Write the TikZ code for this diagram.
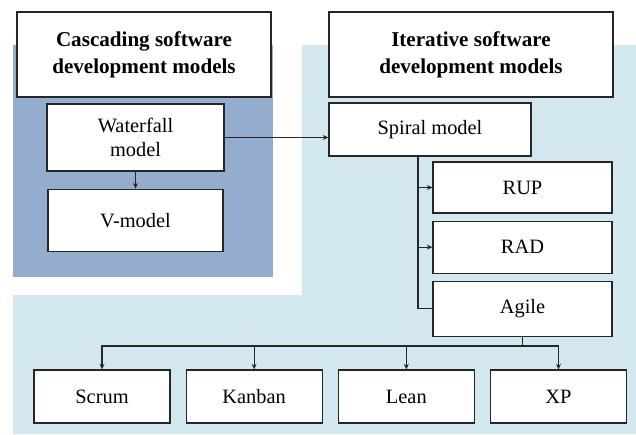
\documentclass[tikz,border=0pt]{standalone}
\usepackage{fontspec}
\setmainfont{Liberation Serif}
\usepackage{xcolor}
\usetikzlibrary{arrows.meta,positioning}
\definecolor{cascblue}{RGB}{148,172,206}
\definecolor{iterblue}{RGB}{210,232,238}

\begin{document}
\begin{tikzpicture}[
  x=0.025cm, y=-0.025cm,
  hdr/.style={draw=black!85, line width=0.8pt, fill=white,
              align=center, inner sep=2pt,
              font=\fontsize{15}{19}\selectfont\bfseries},
  box/.style={draw=black!85, line width=0.8pt, fill=white,
              align=center, inner sep=2pt,
              font=\fontsize{14.5}{17}\selectfont},
  leaf/.style={box, minimum width=3.4cm, minimum height=1.325cm},
  arr/.style={-{Stealth[length=4pt,width=3.5pt]}, line width=0.9pt, black!85},
  lnk/.style={line width=0.9pt, black!85},
]
  \useasboundingbox (0,0) rectangle (636,434);
  % backgrounds
  \fill[iterblue] (302,45) -- (636,45) -- (636,434) -- (13,434)
                  -- (13,295) -- (302,295) -- cycle;
  \fill[cascblue] (13,45) rectangle (273,277);

  % headers
  \node[hdr, minimum width=6.35cm, minimum height=2.125cm] (casc) at (144,54.5)
    {Cascading software\\development models};
  \node[hdr, minimum width=7.1cm, minimum height=2.125cm] (iter) at (471,54.5)
    {Iterative software\\development models};

  % cascading models
  \node[box, minimum width=4.425cm, minimum height=1.675cm] (wf) at (135.5,137.5)
    {Waterfall\\model};
  \node[box, minimum width=4.375cm, minimum height=1.55cm, below=0.425cm of wf] (vm)
    {V-model};

  % iterative models
  \node[box, minimum width=5.05cm, minimum height=1.325cm] (sp) at (430,129.5)
    {Spiral model};
  \node[box, minimum width=4.475cm, minimum height=1.275cm] (rup) at (522.5,187.5)
    {RUP};
  \node[box, minimum width=4.475cm, minimum height=1.3cm, below=0.175cm of rup] (rad)
    {RAD};
  \node[box, minimum width=4.475cm, minimum height=1.375cm, below=0.175cm of rad] (agile)
    {Agile};

  % agile methods
  \node[leaf] (scrum) at (102,396.5) {Scrum};
  \node[leaf, right=0.375cm of scrum] (kanban) {Kanban};
  \node[leaf, right=0.375cm of kanban] (lean) {Lean};
  \node[leaf, right=0.375cm of lean] (xp) {XP};

  % connectors
  \draw[arr] (wf) -- (vm);
  \draw[arr] (wf.east) -- (sp.west |- wf.east);

  \coordinate (trunk) at (418,0);
  \draw[arr] (trunk |- sp.south) |- (rup.west);
  \draw[arr] (trunk |- sp.south) |- (rad.west);
  \draw[lnk] (trunk |- sp.south) |- (agile.west);

  \coordinate (bus) at (0,346);
  \draw[lnk] (agile.south) -- (agile.south |- bus);
  \draw[arr] (agile.south |- bus) -| (scrum.north);
  \draw[arr] (agile.south |- bus) -| (kanban.north);
  \draw[arr] (agile.south |- bus) -| (lean.north);
  \draw[arr] (agile.south |- bus) -| (xp.north);
\end{tikzpicture}
\end{document}
